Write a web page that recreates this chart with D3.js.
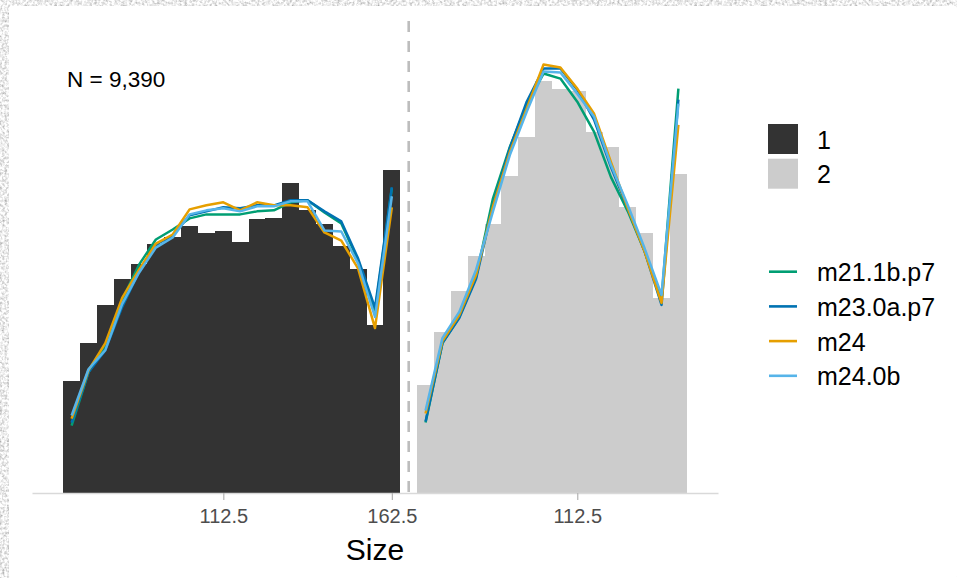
<!DOCTYPE html>
<html>
<head>
<meta charset="utf-8">
<script src="https://cdn.jsdelivr.net/npm/d3@7"></script>
<style>
  body { margin: 0; background: #fff; overflow: hidden; }
  svg { display: block; }
  text { font-family: "Liberation Sans", Arial, sans-serif; }
</style>
</head>
<body>
<div id="chart"></div>
<script>
// ---- data ----
const groups = ["1", "2"];
const totalN = 9390;

// bin start of each 5-unit Size bin
const sizeBins1 = [65, 70, 75, 80, 85, 90, 95, 100, 105, 110, 115, 120, 125, 130, 135, 140, 145, 150, 155, 160];
const sizeBins2 = [65, 70, 75, 80, 85, 90, 95, 100, 105, 110, 115, 120, 125, 130, 135, 140];

// observed counts per bin
const counts1 = [111, 149, 187, 213, 228, 248, 255, 265, 258, 260, 250, 272, 273, 308, 281, 267, 246, 223, 167, 321];
const counts2 = [107, 160, 201, 236, 267, 315, 354, 410, 402, 400, 359, 344, 284, 258, 194, 317];

// model fits, expected counts per bin
const modelNames = ["m21.1b.p7", "m23.0a.p7", "m24", "m24.0b"];
const m21_1b_g1 = [67, 120, 147, 192, 227, 252, 262, 273, 277, 277, 277, 280, 281, 289, 291, 279, 268, 231, 180, 303];
const m23_0a_g1 = [70, 120, 142, 185, 220, 247, 256, 276, 280, 284, 283, 286, 286, 291, 291, 280, 270, 233, 184, 304];
const m24_g1    = [74, 122, 149, 194, 222, 248, 257, 282, 286, 289, 281, 289, 286, 286, 284, 259, 251, 223, 164, 284];
const m24_0b_g1 = [77, 123, 142, 188, 219, 244, 254, 277, 281, 283, 280, 285, 285, 290, 290, 261, 260, 228, 175, 295];
const m21_1b_g2 = [70, 149, 175, 215, 293, 344, 386, 417, 412, 389, 359, 314, 280, 240, 192, 402];
const m23_0a_g2 = [71, 149, 174, 213, 286, 343, 389, 422, 422, 401, 371, 324, 283, 240, 187, 391];
const m24_g2    = [79, 151, 177, 217, 285, 339, 382, 426, 423, 402, 377, 329, 283, 240, 189, 366];
const m24_0b_g2 = [82, 154, 180, 222, 280, 336, 379, 419, 418, 397, 374, 326, 286, 243, 197, 387];

const tickValues = [112.5, 162.5, 217.5];

// ---- chart ----
class HistFitD3 {
    size = {width: 957, height: 578};
    panel = {left: 32, right: 718, top: 21, bottom: 493};
    binWidth = 5;
    groupOffset = 105;   // group 2 is shifted right along the shared axis
    fillColors = ["#333333", "#cccccc"];
    lineColors = ["#009E73", "#0072B2", "#E69F00", "#56B4E9"];

    constructor(el) {
        this.el = el;
    }

    create() {
        this.svg = d3.select(this.el).append("svg")
            .attr("width", this.size.width)
            .attr("height", this.size.height);

        // speckled grey backdrop round the white card
        const filter = this.svg.append("defs").append("filter")
            .attr("id", "speckle").attr("x", 0).attr("y", 0)
            .attr("width", "100%").attr("height", "100%");
        filter.append("feTurbulence")
            .attr("type", "fractalNoise")
            .attr("baseFrequency", 0.4)
            .attr("numOctaves", 3)
            .attr("seed", 3);
        filter.append("feColorMatrix")
            .attr("type", "matrix")
            .attr("values", "1.1 0 0 0 0.3  1.1 0 0 0 0.3  1.1 0 0 0 0.3  0 0 0 0 1");

        this.svg.append("rect")
            .attr("width", this.size.width).attr("height", this.size.height)
            .attr("filter", "url(#speckle)");
        this.svg.append("rect")
            .attr("x", 9).attr("y", 6)
            .attr("width", this.size.width - 9).attr("height", this.size.height - 6)
            .attr("rx", 2)
            .attr("fill", "#ffffff");

        this.xScale = d3.scaleLinear()
            .domain([55.75, 259.25])
            .range([this.panel.left, this.panel.right]);
        this.yScale = d3.scaleLinear()
            .domain([0, 469.25])
            .range([this.panel.bottom, this.panel.top]);

        this.plotG = this.svg.append("g").attr("class", "plotG");
    }

    renderBars(bins, counts, offset, color) {
        const data = bins.map((b, i) => ({start: b + offset, count: counts[i]}));
        this.plotG.append("g")
            .selectAll("rect")
            .data(data)
            .join("rect")
            .attr("x", d => this.xScale(d.start))
            .attr("width", d => this.xScale(d.start + this.binWidth) - this.xScale(d.start))
            .attr("y", d => this.yScale(d.count))
            .attr("height", d => this.yScale(0) - this.yScale(d.count))
            .attr("fill", color)
            .attr("shape-rendering", "crispEdges");
    }

    renderFit(bins, values, offset, color) {
        const line = d3.line()
            .x((d, i) => this.xScale(bins[i] + offset + this.binWidth / 2))
            .y(d => this.yScale(d));
        this.plotG.append("path")
            .datum(values)
            .attr("d", line)
            .attr("fill", "none")
            .attr("stroke", color)
            .attr("stroke-width", 2.5)
            .attr("stroke-linejoin", "round");
    }

    renderAxis() {
        const axis = d3.axisBottom(this.xScale)
            .tickValues(tickValues)
            .tickSize(7)
            .tickSizeOuter(0)
            .tickPadding(9)
            .tickFormat(d => d > 167.5 ? d3.format(".1f")(d - this.groupOffset) : d3.format(".1f")(d));

        const axisG = this.svg.append("g")
            .attr("class", "xAxisG")
            .attr("transform", "translate(0," + this.panel.bottom + ")")
            .call(axis);
        axisG.select(".domain").attr("stroke", "#d9d9d9").attr("stroke-width", 1.4);
        axisG.selectAll(".tick line").attr("stroke", "#b3b3b3").attr("stroke-width", 1.2);
        axisG.selectAll(".tick text")
            .attr("fill", "#4d4d4d")
            .style("font-size", "20px");

        this.svg.append("text")
            .attr("x", (this.panel.left + this.panel.right) / 2)
            .attr("y", 560)
            .attr("text-anchor", "middle")
            .style("font-size", "30px")
            .attr("fill", "#000")
            .text("Size");
    }

    renderDivider() {
        // dashed line half way between the two groups
        this.svg.append("line")
            .attr("x1", this.xScale(167.5)).attr("x2", this.xScale(167.5))
            .attr("y1", this.panel.top).attr("y2", this.panel.bottom)
            .attr("stroke", "#bdbdbd")
            .attr("stroke-width", 2.6)
            .attr("stroke-dasharray", "11,9");
    }

    renderLegend() {
        const lg = this.svg.append("g").attr("class", "legendG");
        const keyX = 768, textX = 817, step = 34.7;

        groups.forEach((g, i) => {
            const cy = 139 + i * step;
            lg.append("rect")
                .attr("x", keyX).attr("y", cy - 15)
                .attr("width", 30).attr("height", 30)
                .attr("fill", this.fillColors[i]);
            lg.append("text")
                .attr("x", textX).attr("y", cy + 9.5)
                .style("font-size", "25px")
                .text(g);
        });

        modelNames.forEach((m, i) => {
            const cy = 271.7 + i * step;
            lg.append("line")
                .attr("x1", keyX + 1).attr("x2", keyX + 29)
                .attr("y1", cy).attr("y2", cy)
                .attr("stroke", this.lineColors[i])
                .attr("stroke-width", 2.6);
            lg.append("text")
                .attr("x", textX).attr("y", cy + 9.5)
                .style("font-size", "25px")
                .text(m);
        });
    }

    render() {
        this.renderBars(sizeBins1, counts1, 0, this.fillColors[0]);
        this.renderBars(sizeBins2, counts2, this.groupOffset, this.fillColors[1]);
        this.renderAxis();
        this.renderDivider();

        const fits1 = [m21_1b_g1, m23_0a_g1, m24_g1, m24_0b_g1];
        const fits2 = [m21_1b_g2, m23_0a_g2, m24_g2, m24_0b_g2];
        fits1.forEach((f, i) => this.renderFit(sizeBins1, f, 0, this.lineColors[i]));
        fits2.forEach((f, i) => this.renderFit(sizeBins2, f, this.groupOffset, this.lineColors[i]));

        this.svg.append("text")
            .attr("x", 67).attr("y", 86.5)
            .style("font-size", "22.5px")
            .text("N = " + d3.format(",")(totalN));

        this.renderLegend();
    }
}

const chart = new HistFitD3(document.getElementById("chart"));
chart.create();
chart.render();
</script>
</body>
</html>
